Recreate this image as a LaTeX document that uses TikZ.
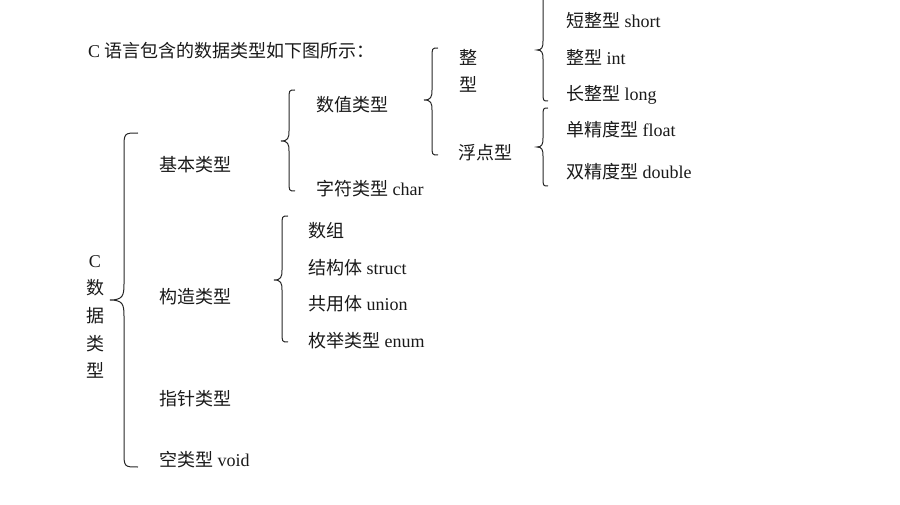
\documentclass[tikz,border=0pt]{standalone}
\usepackage{fontspec}
\setmainfont{Liberation Serif}
\newfontfamily\cjk{Noto Sans CJK SC}
\newcommand\zh[1]{{\cjk #1}}
% brace: xtip, xvert, xend, ytop, ymid, ybot, radius
\newcommand\cbrace[7]{%
  \draw[bracel] (#3,#4) .. controls (#2,#4) and (#2,#4) .. (#2,#4+#7) -- (#2,#5-#7)
    .. controls (#2,#5-0.3*#7) and (#2-1,#5) .. (#1,#5) .. controls (#2-1,#5) and (#2,#5+0.3*#7) .. (#2,#5+#7)
    -- (#2,#6-#7) .. controls (#2,#6) and (#2,#6) .. (#3,#6);}
\begin{document}
\begin{tikzpicture}[x=1pt,y=-1pt,
  lbl/.style={anchor=west,inner sep=0pt,yshift=-2.5pt,text height=13pt,text depth=3pt,font=\fontsize{18pt}{20pt}\selectfont,text=black!90},
  bracel/.style={line width=1pt,color=black!85}]
\useasboundingbox (0,0) rectangle (900,505);
\node[lbl] (title) at (88,50) {C \zh{语言包含的数据类型如下图所示：}};
% root vertical label
\node[lbl,anchor=center] (v1) at (95,260) {C};
\node[lbl,anchor=center] (v2) at (95,287) {\zh{数}};
\node[lbl,anchor=center] (v3) at (95,315) {\zh{据}};
\node[lbl,anchor=center] (v4) at (95,343) {\zh{类}};
\node[lbl,anchor=center] (v5) at (95,370) {\zh{型}};
% level 1
\node[lbl] (basic) at (159,164) {\zh{基本类型}};
\node[lbl] (constr) at (159,296) {\zh{构造类型}};
\node[lbl] (ptr) at (159,398) {\zh{指针类型}};
\node[lbl] (void) at (159,459) {\zh{空类型} void};
% level 2 basic
\node[lbl] (num) at (316,104) {\zh{数值类型}};
\node[lbl] (chr) at (316,188) {\zh{字符类型} char};
% level 2 constructed
\node[lbl] (arr) at (308,230) {\zh{数组}};
\node[lbl] (struct) at (308,267) {\zh{结构体} struct};
\node[lbl] (union) at (308,303) {\zh{共用体} union};
\node[lbl] (enum) at (308,340) {\zh{枚举类型} enum};
% level 3
\node[lbl] (int1) at (459,57) {\zh{整}};
\node[lbl] (int2) at (459,84) {\zh{型}};
\node[lbl] (flt) at (458,152) {\zh{浮点型}};
% level 4
\node[lbl] (short) at (566,20) {\zh{短整型} short};
\node[lbl] (int) at (566,57) {\zh{整型} int};
\node[lbl] (long) at (566,93) {\zh{长整型} long};
\node[lbl] (float) at (566,129) {\zh{单精度型} float};
\node[lbl] (double) at (566,171) {\zh{双精度型} double};
% braces
\cbrace{110}{124}{138}{133}{300}{467}{16}
\cbrace{281}{289}{295}{90}{141}{191}{10}
\cbrace{274}{282}{288}{216}{280}{342}{10}
\cbrace{424}{432}{438}{48}{100}{155}{10}
\cbrace{537}{543}{548}{-4}{50}{101}{9}
\cbrace{537}{543}{548}{108}{147}{186}{9}
\end{tikzpicture}
\end{document}
